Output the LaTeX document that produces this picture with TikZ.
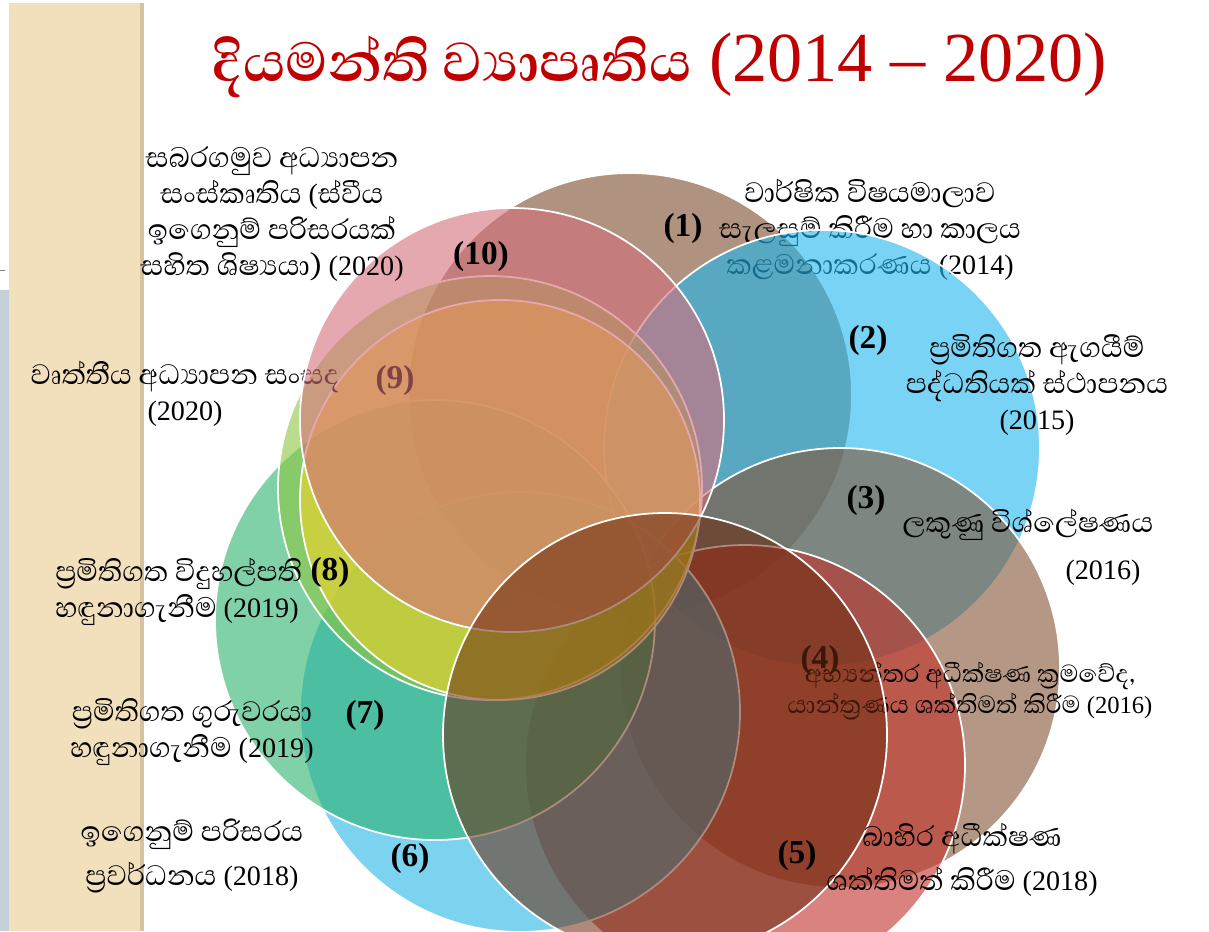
\documentclass[tikz,border=0pt]{standalone}
\usepackage{fontspec}
\setmainfont{Liberation Serif}
\newfontfamily\slfont[Script=Sinhala, Scale=1.28]{Abhaya Libre}
\newcommand{\snh}[1]{{\slfont #1}}

\definecolor{sand}{HTML}{F2DFBC}
\definecolor{sandedge}{HTML}{D6C29E}
\definecolor{sidegray}{HTML}{C6D0D8}
\definecolor{titlered}{HTML}{C00000}
\definecolor{cbrown}{HTML}{7A4A2A}
\definecolor{csky}{HTML}{21B7ED}
\definecolor{ctaupe}{HTML}{825335}
\definecolor{cdark}{HTML}{6B2A0E}
\definecolor{cred}{HTML}{C03028}
\definecolor{cblue}{HTML}{26B7E6}
\definecolor{cgreen}{HTML}{2DB36E}
\definecolor{clime}{HTML}{8CC63F}
\definecolor{cyellow}{HTML}{FFD420}
\definecolor{cpink}{HTML}{D56E7B}

\tikzstyle{bubble} = [draw=white, line width=1pt, fill opacity=0.6]
\tikzstyle{lbl} = [align=center, inner sep=0pt, font=\fontsize{16}{20.5}\selectfont]
\tikzstyle{num} = [inner sep=0pt, font=\fontsize{19}{19}\selectfont\bfseries]

\begin{document}
\begin{tikzpicture}[x=0.02cm, y=-0.02cm]
  \useasboundingbox (0,0) rectangle (1209,931);

  % Background and side band
  \fill[white] (0,0) rectangle (1209,931);
  \fill[sidegray] (0,290) rectangle (9,931);
  \draw[gray, dashed] (0,270) -- (12,270);
  \fill[sand] (9,3) rectangle (142,931);
  \draw[sandedge, line width=2pt] (142,3) -- (142,931);

  % Title
  \node[text=titlered, font=\fontsize{40}{40}\selectfont] (title) at (660,65)
    {{\fontsize{31.25}{40}\selectfont\snh{\bfseries දියමන්ති ව්^^^^200dයාපෘතිය}} (2014 -- 2020)};

  % Circles, each with its text
  \draw[bubble, fill=cbrown] (630,395) circle (222);
  \node[lbl] (t1) at (870,230) {\snh{වාර්ෂික විෂයමාලාව}\\ \snh{සැලසුම් කිරීම හා කාලය}\\ \snh{කළමනාකරණය} (2014)};
  \node[num] (n1) at (683,228) {(1)};

  \draw[bubble, fill=csky] (822,448) circle (218);
  \draw[bubble, fill=ctaupe] (840,668) circle (220);
  \draw[bubble, fill=cred] (745,765) circle (220);
  \draw[bubble, fill=cblue] (520,712) circle (220);
  \draw[bubble, fill=cgreen] (435,620) circle (220);
  \draw[bubble, fill=clime] (490,488) circle (212);

  \draw[bubble, fill=cyellow, fill opacity=0.55] (500,500) circle (200);
  \node[lbl] (t9) at (185,394) {\snh{වෘත්තීය අධ්^^^^200dයාපන සංසද}\\ (2020)};
  \node[num] (n9) at (395,380) {(9)};

  \draw[bubble, fill=cpink] (512,420) circle (212);

  \node[lbl, font=\fontsize{14}{18}\selectfont] (t4) at (970,691) {\snh{අභ්^^^^200dයන්තර අධීක්ෂණ ක්^^^^200dරමවේද,}\\ \snh{යාන්ත්^^^^200dරණය ශක්තිමත් කිරීම} (2016)};
  \node[num] (n4) at (820,660) {(4)};
  \draw[bubble, fill=cdark, fill opacity=0.55] (665,735) circle (222);

  % Remaining texts on top
  \node[lbl] (t10) at (272,214) {\snh{සබරගමුව අධ්^^^^200dයාපන}\\ \snh{සංස්කෘතිය} (\snh{ස්වීය}\\ \snh{ඉගෙනුම් පරිසරයක්}\\ \snh{සහිත ශිෂ්^^^^200dයයා)} (2020)};
  \node[num] (n10) at (481,256) {(10)};

  \node[lbl] (t2) at (1037,385) {\snh{ප්^^^^200dරමිතිගත ඇගයීම්}\\ \snh{පද්ධතියක් ස්ථාපනය}\\ (2015)};
  \node[num] (n2) at (868,340) {(2)};

  \node[lbl] (t3) at (1028,525) {\snh{ලකුණු විශ්ලේෂණය}};
  \node[lbl] (t3y) at (1103,573) {(2016)};
  \node[num] (n3) at (866,500) {(3)};

  \node[lbl, font=\fontsize{16}{25}\selectfont] (t5) at (962,860) {\snh{බාහිර අධීක්ෂණ}\\ \snh{ශක්තිමත් කිරීම} (2018)};
  \node[num] (n5) at (797,855) {(5)};

  \node[lbl, font=\fontsize{16}{25}\selectfont] (t6) at (192,856) {\snh{ඉගෙනුම් පරිසරය}\\ \snh{ප්^^^^200dරවර්ධනය} (2018)};
  \node[num] (n6) at (410,858) {(6)};

  \node[lbl] (t7) at (192,732) {\snh{ප්^^^^200dරමිතිගත ගුරුවරයා}\\ \snh{හඳුනාගැනීම} (2019)};
  \node[num] (n7) at (365,715) {(7)};

  \node[lbl, align=left, anchor=west] (t8) at (55,592) {\snh{ප්^^^^200dරමිතිගත විදුහල්පති}\\ \snh{හඳුනාගැනීම} (2019)};
  \node[num] (n8) at (330,572) {(8)};

\end{tikzpicture}
\end{document}
